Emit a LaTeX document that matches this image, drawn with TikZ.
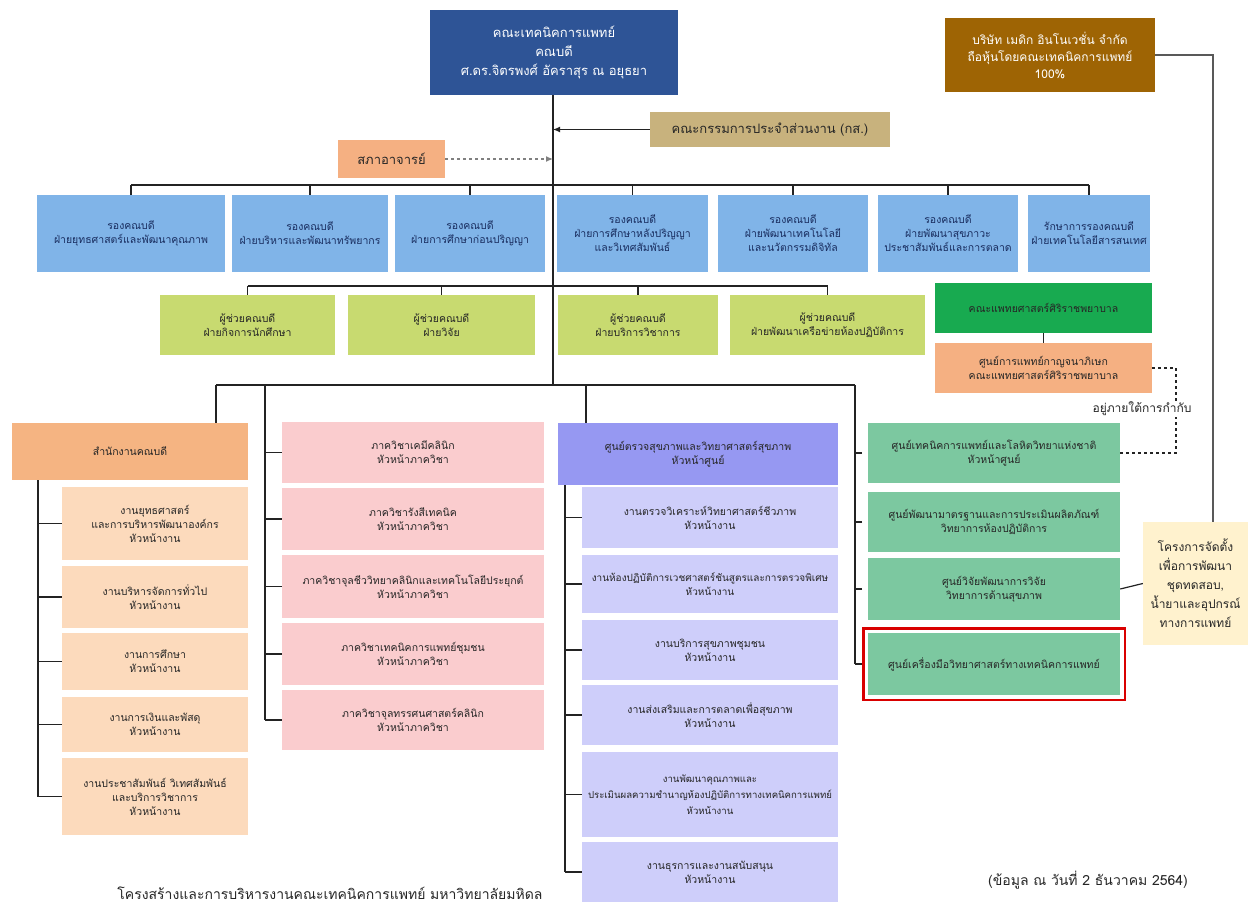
\documentclass[tikz,border=0pt]{standalone}
\usepackage{fontspec}
\newfontfamily\thai[Script=Thai]{Loma}
\usepackage{tikz}
\usetikzlibrary{arrows.meta,fit}

\definecolor{deanblue}{RGB}{46,84,150}
\definecolor{boardtan}{RGB}{200,178,125}
\definecolor{councilorange}{RGB}{245,176,130}
\definecolor{companybrown}{RGB}{158,100,4}
\definecolor{vpblue}{RGB}{128,180,232}
\definecolor{navytext}{RGB}{25,45,95}
\definecolor{asstlime}{RGB}{200,218,112}
\definecolor{sirirajgreen}{RGB}{24,170,80}
\definecolor{offorange}{RGB}{245,180,130}
\definecolor{offpeach}{RGB}{252,218,188}
\definecolor{deptpink}{RGB}{250,204,206}
\definecolor{labpurple}{RGB}{150,152,242}
\definecolor{lablav}{RGB}{206,206,250}
\definecolor{ctrgreen}{RGB}{124,200,160}
\definecolor{projcream}{RGB}{255,242,206}
\definecolor{linkgray}{RGB}{35,35,35}

\begin{document}
\begin{tikzpicture}[x=1pt,y=-1pt,
  box/.style={rectangle, align=center, inner sep=2pt, font=\thai\fontsize{10.5}{14}\selectfont, text=black!85},
  bigtext/.style={font=\thai\fontsize{13}{19}\selectfont},
  deanbox/.style={box, bigtext, fill=deanblue, text=white},
  vpbox/.style={box, fill=vpblue, text=navytext, minimum height=77},
  asstbox/.style={box, fill=asstlime, minimum height=60},
  offhead/.style={box, fill=offorange, minimum width=236, minimum height=57},
  offbox/.style={box, fill=offpeach, minimum width=186},
  deptbox/.style={box, fill=deptpink, minimum width=262},
  labhead/.style={box, fill=labpurple, minimum width=280, minimum height=62},
  labbox/.style={box, fill=lablav, minimum width=256},
  ctrbox/.style={box, fill=ctrgreen, minimum width=252},
  link/.style={draw=linkgray, line width=1.2pt}]
\useasboundingbox (0,0) rectangle (1256,910);
\fill[white] (0,0) rectangle (1256,910);

\coordinate (trunk) at (553,0);
\coordinate (vpbus) at (0,185);
\coordinate (asbus) at (0,286);
\coordinate (lowbus) at (0,385);
\coordinate (obar) at (38,0);
\coordinate (pbar) at (265,0);
\coordinate (ubar) at (565,0);
\coordinate (gbar) at (855,0);
\coordinate (rail) at (1213,0);
\coordinate (dash) at (1176,0);

% top
\node[deanbox, minimum width=248, minimum height=85] (dean) at (554,52.5) {คณะเทคนิคการแพทย์\\คณบดี\\ศ.ดร.จิตรพงศ์ อัคราสุร ณ อยุธยา};
\node[box, bigtext, fill=boardtan, minimum width=240, minimum height=35] (board) at (770,129.5) {คณะกรรมการประจำส่วนงาน (กส.)};
\node[box, bigtext, fill=councilorange, minimum width=107, minimum height=38] (council) at (391.5,159) {สภาอาจารย์};
\node[box, fill=companybrown, text=white, font=\thai\fontsize{12}{17}\selectfont, minimum width=210, minimum height=74] (company) at (1050,55) {บริษัท เมดิก อินโนเวชั่น จำกัด\\ถือหุ้นโดยคณะเทคนิคการแพทย์\\100\%};

% vice deans
\node[vpbox, minimum width=188] (v1) at (131,233.5) {รองคณบดี\\ฝ่ายยุทธศาสตร์และพัฒนาคุณภาพ};
\node[vpbox, minimum width=156] (v2) at (310,233.5) {รองคณบดี\\ฝ่ายบริหารและพัฒนาทรัพยากร};
\node[vpbox, minimum width=150] (v3) at (470,233.5) {รองคณบดี\\ฝ่ายการศึกษาก่อนปริญญา};
\node[vpbox, minimum width=151] (v4) at (632.5,233.5) {รองคณบดี\\ฝ่ายการศึกษาหลังปริญญา\\และวิเทศสัมพันธ์};
\node[vpbox, minimum width=150] (v5) at (793,233.5) {รองคณบดี\\ฝ่ายพัฒนาเทคโนโลยี\\และนวัตกรรมดิจิทัล};
\node[vpbox, minimum width=140] (v6) at (948,233.5) {รองคณบดี\\ฝ่ายพัฒนาสุขภาวะ\\ประชาสัมพันธ์และการตลาด};
\node[vpbox, minimum width=122] (v7) at (1089,233.5) {รักษาการรองคณบดี\\ฝ่ายเทคโนโลยีสารสนเทศ};

% assistant deans
\node[asstbox, minimum width=175] (a1) at (247.5,325) {ผู้ช่วยคณบดี\\ฝ่ายกิจการนักศึกษา};
\node[asstbox, minimum width=187] (a2) at (441.5,325) {ผู้ช่วยคณบดี\\ฝ่ายวิจัย};
\node[asstbox, minimum width=160] (a3) at (638,325) {ผู้ช่วยคณบดี\\ฝ่ายบริการวิชาการ};
\node[asstbox, minimum width=195] (a4) at (827.5,325) {ผู้ช่วยคณบดี\\ฝ่ายพัฒนาเครือข่ายห้องปฏิบัติการ};

\node[box, fill=sirirajgreen, minimum width=217, minimum height=50] (siriraj) at (1043.5,308) {คณะแพทยศาสตร์ศิริราชพยาบาล};
\node[box, fill=councilorange, minimum width=217, minimum height=50] (kanch) at (1043.5,368) {ศูนย์การแพทย์กาญจนาภิเษก\\คณะแพทยศาสตร์ศิริราชพยาบาล};

% dean's office
\node[offhead] (office) at (130,451.5) {สำนักงานคณบดี};
\node[offbox, minimum height=73] (o1) at (155,523.5) {งานยุทธศาสตร์\\และการบริหารพัฒนาองค์กร\\หัวหน้างาน};
\node[offbox, minimum height=62] (o2) at (155,597) {งานบริหารจัดการทั่วไป\\หัวหน้างาน};
\node[offbox, minimum height=57] (o3) at (155,661.5) {งานการศึกษา\\หัวหน้างาน};
\node[offbox, minimum height=55] (o4) at (155,724.5) {งานการเงินและพัสดุ\\หัวหน้างาน};
\node[offbox, minimum height=77] (o5) at (155,796.5) {งานประชาสัมพันธ์ วิเทศสัมพันธ์\\และบริการวิชาการ\\หัวหน้างาน};

% departments
\node[deptbox, minimum height=61] (p1) at (413,452.5) {ภาควิชาเคมีคลินิก\\หัวหน้าภาควิชา};
\node[deptbox, minimum height=62] (p2) at (413,519) {ภาควิชารังสีเทคนิค\\หัวหน้าภาควิชา};
\node[deptbox, minimum height=63] (p3) at (413,586.5) {ภาควิชาจุลชีววิทยาคลินิกและเทคโนโลยีประยุกต์\\หัวหน้าภาควิชา};
\node[deptbox, minimum height=62] (p4) at (413,654) {ภาควิชาเทคนิคการแพทย์ชุมชน\\หัวหน้าภาควิชา};
\node[deptbox, minimum height=60] (p5) at (413,720) {ภาควิชาจุลทรรศนศาสตร์คลินิก\\หัวหน้าภาควิชา};

% health check centre
\node[labhead] (lab) at (698,454) {ศูนย์ตรวจสุขภาพและวิทยาศาสตร์สุขภาพ\\หัวหน้าศูนย์};
\node[labbox, minimum height=61] (u1) at (710,517.5) {งานตรวจวิเคราะห์วิทยาศาสตร์ชีวภาพ\\หัวหน้างาน};
\node[labbox, minimum height=58, font=\thai\fontsize{10}{14}\selectfont] (u2) at (710,584) {งานห้องปฏิบัติการเวชศาสตร์ชันสูตรและการตรวจพิเศษ\\หัวหน้างาน};
\node[labbox, minimum height=60] (u3) at (710,650) {งานบริการสุขภาพชุมชน\\หัวหน้างาน};
\node[labbox, minimum height=60] (u4) at (710,715) {งานส่งเสริมและการตลาดเพื่อสุขภาพ\\หัวหน้างาน};
\node[labbox, minimum height=85, font=\thai\fontsize{9.6}{16}\selectfont] (u5) at (710,794.5) {งานพัฒนาคุณภาพและ\\ประเมินผลความชำนาญห้องปฏิบัติการทางเทคนิคการแพทย์\\หัวหน้างาน};
\node[labbox, minimum height=60] (u6) at (710,872) {งานธุรการและงานสนับสนุน\\หัวหน้างาน};

% centres
\node[ctrbox, minimum height=60] (g1) at (994,453) {ศูนย์เทคนิคการแพทย์และโลหิตวิทยาแห่งชาติ\\หัวหน้าศูนย์};
\node[ctrbox, minimum height=60] (g2) at (994,522) {ศูนย์พัฒนามาตรฐานและการประเมินผลิตภัณฑ์\\วิทยาการห้องปฏิบัติการ};
\node[ctrbox, minimum height=62] (g3) at (994,589) {ศูนย์วิจัยพัฒนาการวิจัย\\วิทยาการด้านสุขภาพ};
\node[ctrbox, minimum height=62] (g4) at (994,664) {ศูนย์เครื่องมือวิทยาศาสตร์ทางเทคนิคการแพทย์};
\node[draw=red!85!black, line width=2.4pt, fit=(g4), inner sep=4.5pt] (mark) {};
\node[box, fill=projcream, font=\thai\fontsize{12}{19}\selectfont, minimum width=105, minimum height=123] (project) at (1195.5,583.5) {โครงการจัดตั้ง\\เพื่อการพัฒนา\\ชุดทดสอบ,\\น้ำยาและอุปกรณ์\\ทางการแพทย์};

% captions
\node[box, font=\thai\fontsize{14}{16}\selectfont] (title) at (330,893) {โครงสร้างและการบริหารงานคณะเทคนิคการแพทย์ มหาวิทยาลัยมหิดล};
\node[box, font=\thai\fontsize{14}{16}\selectfont] (stamp) at (1088,880) {(ข้อมูล ณ วันที่ 2 ธันวาคม 2564)};

% connectors
\draw[link] (dean.south -| trunk) -- (trunk |- lowbus);
\draw[link, -{Latex[length=7pt,width=6pt]}] (board.west) -- (board.west -| trunk);
\draw[link, draw=gray, dashed, -{Latex[length=7pt,width=6pt]}] (council.east) -- (council.east -| trunk);
\draw[link] (v1.north |- vpbus) -- (v7.north |- vpbus);
\foreach \n in {v1,v2,v3,v4,v5,v6,v7}
  \draw[link] (\n.north) -- (\n.north |- vpbus);
\draw[link] (a1.north |- asbus) -- (a4.north |- asbus);
\foreach \n in {a1,a2,a3,a4}
  \draw[link] (\n.north) -- (\n.north |- asbus);
\draw[link] (siriraj) -- (kanch);
\draw[link, dashed] (kanch.east) -- (kanch.east -| dash) |- (g1.east);
\node[box, fill=white, inner sep=1pt, font=\thai\fontsize{12}{14}\selectfont] (under) at (1142,409) {อยู่ภายใต้การกำกับ};
\draw[link, draw=black!65] (company.east) -- (company.east -| rail) -- (rail |- project.north);
\draw[link] (g3.east) -- (project.west);

\draw[link] (216,385) -- (gbar |- lowbus);
\draw[link] (office.north -| 216,0) -- (216,385);
\draw[link] (lab.north -| 586,0) -- (586,385);
\draw[link] (office.south -| obar) -- (obar |- o5.west);
\foreach \n in {o1,o2,o3,o4,o5}
  \draw[link] (\n.west) -- (\n.west -| obar);
\draw[link] (pbar |- lowbus) -- (pbar |- p5.west);
\foreach \n in {p1,p2,p3,p4,p5}
  \draw[link] (\n.west) -- (\n.west -| pbar);
\draw[link] (lab.south -| ubar) -- (ubar |- u6.west);
\foreach \n in {u1,u2,u3,u4,u5,u6}
  \draw[link] (\n.west) -- (\n.west -| ubar);
\draw[link] (gbar |- lowbus) -- (gbar |- g4.west);
\foreach \n in {g1,g2,g3,g4}
  \draw[link] (mark.west |- \n.west) -- (\n.west -| gbar);
\end{tikzpicture}
\end{document}
